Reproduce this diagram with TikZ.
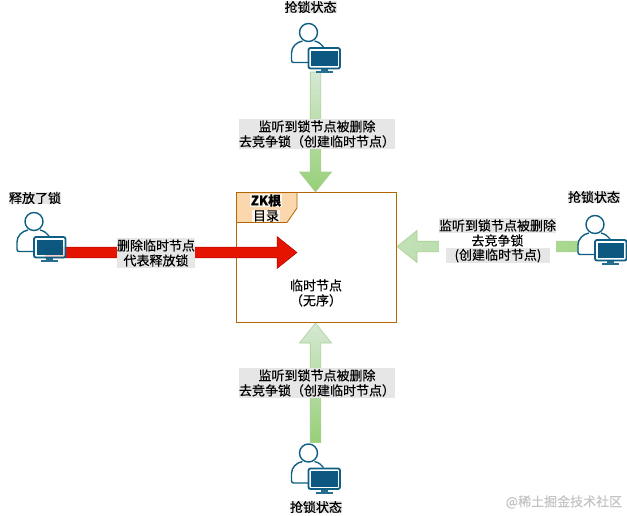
\documentclass[tikz,border=0pt]{standalone}
\usepackage{fontspec}
\setmainfont[FakeBold=0.35]{Noto Sans CJK SC}
\usetikzlibrary{calc}
\definecolor{iconblue}{HTML}{0F5F84}
\definecolor{screenblue}{HTML}{00507A}
\definecolor{notefill}{HTML}{FAD7AC}
\definecolor{boxline}{HTML}{B46504}
\definecolor{labelgray}{HTML}{E6E6E6}
\definecolor{greenlight}{HTML}{D5E8D4}
\definecolor{greendark}{HTML}{97D077}
\definecolor{greenline}{HTML}{A9CF94}
\definecolor{redfill}{HTML}{E51400}
\definecolor{markgray}{HTML}{C4C4C4}
\tikzset{
  usericon/.pic={
    \draw[iconblue,line width=1.4pt,fill=white] (18,9.5) circle (9);
    \draw[iconblue,line width=1.4pt,rounded corners=2pt]
    (19,39.5)--(1,39.5)--(1,32)..controls (1,24) and (6,19) .. (12,18);
    \draw[iconblue,line width=1.4pt] (24,18)..controls (28,19) and (31,21) .. (33,24);
    \draw[iconblue,line width=1.8pt,fill=white,fill opacity=0.8,rounded corners=2pt]
    (18,25) rectangle (49.5,45.5);
    \fill[screenblue,opacity=0.95] (20.5,27.5) rectangle (47,43);
    \fill[iconblue,opacity=0.9] (30,45.5) rectangle (37,48);
    \fill[iconblue,opacity=0.9] (25,48) rectangle (42,50);
  }
}
\newcommand{\fatarrow}[3][]{%
  \coordinate (headbase) at ($(#3)!20pt!(#2)$);
  \path[#1] ($(#2)!5.3pt!90:(#3)$)--($(headbase)!5.3pt!90:(#3)$)
  --($(headbase)!16pt!90:(#3)$)--(#3)--($(headbase)!16pt!-90:(#3)$)
  --($(headbase)!5.3pt!-90:(#3)$)--($(#2)!5.3pt!-90:(#3)$)--cycle;
}
\begin{document}
\begin{tikzpicture}[%
    x=1pt,y=-1pt,
    every node/.style={%
      inner sep=0pt,outer sep=0pt,align=center,
      font=\fontsize{13}{15}\selectfont},
    graybox/.style={fill=labelgray},
    greenarrow/.style={draw=greenline,line width=0.6pt},
    ]
    \useasboundingbox[fill=white] (0,0) rectangle (627,515);
    \node[draw=boxline,line width=0.8pt,minimum width=160pt,minimum height=130pt]
    at(316.5,257.5)(rootbox){};
    \draw[boxline,line width=0.8pt,fill=notefill]
    (rootbox.north west)--(297,192.5)--(297,208)--(287,222.5)--(236.5,222.5)--cycle;
    \node[fill=white!75!notefill,minimum width=32pt] at(266,200.5)(zktitle){\textbf{ZK根}};
    \node[fill=white!75!notefill,minimum width=28pt] at(266,216)(zkdir){目录};
    \node at(316,293)(rootlabel){\setlength{\baselineskip}{16pt}临时节点\\（无序）};

    \coordinate (redtail) at(45,252.5);
    \coordinate (redtip) at(297,252.5);
    \coordinate (toptail) at(315.5,72);
    \coordinate (toptip) at(315.5,192);
    \coordinate (bottail) at(315.5,442.5);
    \coordinate (bottip) at(315.5,323);
    \coordinate (righttail) at(578,246.5);
    \coordinate (righttip) at(397,246.5);

    \fatarrow[draw=red!70!black,line width=0.5pt,fill=redfill]{redtail}{redtip}
    \fatarrow[greenarrow,top color=greenlight,bottom color=greendark]{toptail}{toptip}
    \fatarrow[greenarrow,bottom color=greendark,top color=greenlight]{bottail}{bottip}
    \fatarrow[greenarrow,left color=greenlight!70!greendark,right color=greendark!85!white]{righttail}{righttip}

    \pic at(290.5,23){usericon};
    \pic at(290.5,443.5){usericon};
    \pic at(16,212){usericon};
    \pic at(577,215){usericon};

    \node[graybox] at(310.5,7)(toptitle){抢锁状态};
    \node[graybox] at(316,507)(bottitle){抢锁状态};
    \node[graybox] at(35,198)(lefttitle){释放了锁};
    \node[graybox] at(594,197)(righttitle){抢锁状态};

    \node[graybox,minimum width=156pt,minimum height=30pt] at(317,134)(toplabel)
    {监听到锁节点被删除\\去竞争锁（创建临时节点）};
    \node[graybox,minimum width=156pt,minimum height=30pt] at(317,383)(botlabel)
    {监听到锁节点被删除\\去竞争锁（创建临时节点）};
    \node[graybox,minimum width=78pt,minimum height=30pt] at(156,253)(redlabel)
    {删除临时节点\\代表释放锁};

    \node[fill=white,minimum width=117pt,minimum height=30pt] at(497.5,248)(rightback){};
    \node[graybox,minimum width=117pt,minimum height=15pt] at(497.5,225.5)(rightone){监听到锁节点被删除};
    \node[anchor=center] at(497.5,240.5)(righttwo){去竞争锁};
    \node[graybox,minimum width=104pt,minimum height=15pt] at(498,255.5)(rightthree){(创建临时节点)};

    \node[text=markgray] at(564,502)(watermark){@稀土掘金技术社区};
  \end{tikzpicture}
\end{document}
